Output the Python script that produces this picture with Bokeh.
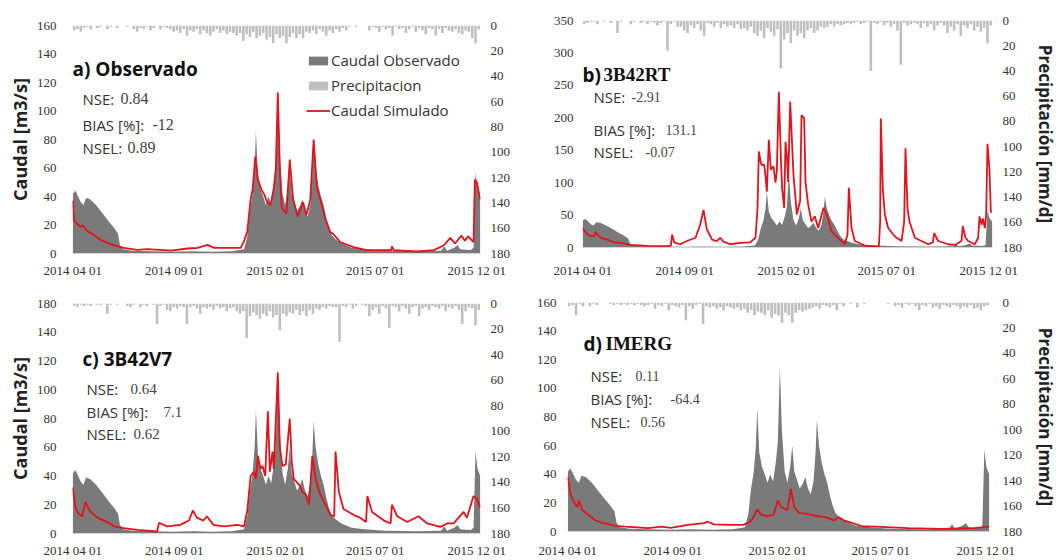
import datetime as dt
from bokeh.plotting import figure
from bokeh.models import (Range1d, LinearAxis, FixedTicker, DatetimeTickFormatter,
                          Label, Legend, LegendItem)
from bokeh.layouts import row, column
from bokeh.embed import file_html
from bokeh.resources import INLINE

START = dt.datetime(2014, 4, 1)
DAY_MS = 86400000.0

# ---------------- data ----------------
tick_dates = ["2014-04-01", "2014-09-01", "2015-02-01", "2015-07-01", "2015-12-01"]

# observed discharge (day offset from 2014-04-01, m3/s)
obs_day = [0, 4, 8, 12, 16, 20, 26, 35, 45, 55, 62, 68, 71, 76, 90, 120, 150, 180, 210, 240,
           258, 263, 267, 271, 274, 276, 279, 283, 287, 291, 295, 299, 303, 306, 309, 312, 316,
           320, 324, 327, 330, 334, 338, 342, 346, 350, 354, 358, 361, 363, 366, 370, 374, 378,
           382, 386, 390, 396, 405, 420, 440, 470, 520, 555, 560, 564, 575, 580, 584, 600, 604,
           607, 610, 614]
obs_q = [42, 44, 40, 36, 34, 39, 38, 34, 28, 22, 18, 14, 6, 3, 2, 1.5, 1.2, 1.5, 1.2, 1.5,
         3, 12, 30, 42, 60, 86, 55, 45, 40, 34, 40, 35, 48, 62, 115, 70, 42,
         34, 45, 60, 42, 36, 30, 33, 38, 30, 26, 35, 55, 78, 60, 48, 40, 34,
         25, 18, 13, 10, 7, 4, 3, 2, 1.5, 2, 5, 2, 4, 6, 3, 2.5, 4,
         57, 45, 40]

# simulated discharge, a) observed precipitation
sim_a_day = [0, 2, 7, 12, 14.5, 22, 32, 42, 52, 62, 77, 97, 112, 148, 173, 188, 203, 213, 238, 253,
             258, 263, 268, 271, 275, 279, 284, 288, 293, 298, 303, 306, 309, 312, 315, 322, 327,
             332, 339, 347, 352, 358, 363, 368, 373, 381, 388, 393, 403, 423, 443, 480, 481, 484,
             519, 544, 559, 569, 576, 586, 591, 596, 604, 606, 609, 614]
sim_a_q = [37, 23, 20.5, 18.6, 20, 15.5, 13, 9.5, 7.5, 5.7, 4, 2.5, 3, 2, 3.5, 4, 6, 4, 4, 4,
           8.5, 15.5, 38, 45, 68, 52, 45, 42, 36, 34, 46, 60, 113, 60, 32, 28, 66,
           38, 26, 36, 27, 38, 80, 46, 38, 24, 15, 13.5, 8, 4.5, 2.4, 2.4, 5, 2.4,
           1.4, 2.4, 5.6, 11, 7, 12.5, 9, 12, 8, 52, 50, 38]

# simulated discharge, b) 3B42RT
sim_b_day = [0, 4, 7, 12, 17, 19, 22, 27, 37, 47, 57, 72, 97, 127, 132, 134, 137, 146, 156, 169,
             176, 181, 186, 194, 201, 206, 211, 221, 236, 251, 259, 262, 264, 267, 269, 272, 274,
             276, 279, 282, 286, 289, 291, 294, 297, 299, 302, 304, 306, 308, 311, 316, 321, 326,
             328, 332, 334, 338, 343, 348, 353, 361, 366, 373, 383, 393, 397, 399, 403, 408, 423,
             444, 446, 447, 450, 453, 458, 468, 478, 482, 484, 487, 490, 498, 508, 518, 525, 527,
             533, 548, 558, 568, 570, 574, 578, 588, 593, 595, 598, 600, 603, 605, 607, 610, 612,
             614]
sim_b_q = [30, 24, 20, 18, 17, 24, 20, 15, 12, 8, 7, 4, 2.5, 2, 3, 20, 8, 5, 10, 15,
           35, 58, 28, 12, 10, 15, 9, 5, 7, 8, 15, 60, 148, 130, 127, 128, 110,
           86, 166, 120, 125, 100, 118, 240, 140, 90, 61, 163, 143, 101, 225, 112, 51, 72,
           204, 199, 101, 66, 40, 48, 30, 61, 51, 25, 15, 5, 20, 92, 30, 10, 3,
           1.5, 40, 199, 90, 51, 30, 17, 10, 40, 153, 60, 40, 15, 10, 5, 8, 22,
           10, 5, 4, 10, 33, 15, 10, 5, 15, 48, 35, 45, 30, 50, 160, 120, 55,
           55]

# simulated discharge, c) 3B42V7
sim_c_day = [0, 4, 9, 14, 19, 24, 27, 37, 47, 54, 62, 77, 97, 127, 130, 142, 162, 175, 181, 187,
             197, 202, 212, 228, 248, 258, 263, 268, 273, 276, 279, 283, 286, 290, 294, 297, 301,
             303, 309, 312, 316, 321, 327, 330, 333, 341, 346, 351, 356, 361, 366, 373, 381, 388,
             394, 396, 401, 408, 423, 433, 442, 444, 451, 469, 479, 481, 489, 504, 521, 534, 554,
             564, 574, 589, 594, 604, 609, 614]
sim_c_q = [32, 18, 13.5, 12, 22, 17, 15, 11, 9, 7.5, 5, 3.7, 2.5, 1.4, 7.5, 5, 6, 9, 16, 11,
           9, 12, 6, 5, 6, 5, 16, 40, 43, 38, 54, 45, 47, 40, 85, 43, 57,
           45, 112, 60, 47, 48, 80, 50, 38, 34, 29, 27, 20, 54, 38, 27, 20, 13,
           12, 57, 29, 17, 13, 11, 8, 26, 15, 9, 7, 20, 12, 8, 12, 7, 4.6,
           7, 7, 15, 11, 26, 24, 18]

# simulated discharge, d) IMERG
sim_d_day = [0, 4, 9, 14, 16, 21, 31, 40, 50, 60, 69, 84, 117, 136, 150, 175, 199, 203, 213, 237,
             256, 266, 270, 276, 281, 290, 300, 306, 311, 316, 320, 325, 330, 337, 347, 361, 375,
             388, 395, 402, 415, 430, 448, 496, 544, 592, 614]
sim_d_q = [38, 26, 20.5, 17, 21.7, 14.8, 11.3, 7.8, 6, 5, 4, 3.4, 2.3, 3.4, 2.5, 4.6, 5.8, 7, 5, 4.6,
           4.6, 7, 9.5, 15.5, 12, 10.5, 12, 21.7, 17, 15.9, 15, 29.8, 17, 13, 12.5, 11, 10,
           7.8, 10, 7.8, 5.8, 3.5, 3.4, 2.3, 1.8, 2.3, 3.4]

# precipitation, 5-day steps from 2014-04-01 (mm/d)
pr_a = [4, 3, 5, 2, 1, 3, 0, 2, 1,
        0, 3, 1, 0, 2, 0, 0, 1, 0, 3,
        5, 2, 3, 1, 4, 2, 0, 3, 1, 2,
        3, 5, 4, 6, 3, 8, 4, 5, 3, 7, 4, 6, 8, 5, 3, 6, 4, 7, 5, 6,
        8, 6, 12, 7, 9, 5, 10, 8, 6, 11, 9, 14, 7, 10, 8, 14, 9, 6, 10, 7,
        10, 5, 6, 4, 7, 3, 5, 8, 4, 6, 3, 5, 2, 4, 1,
        0, 1, 0, 0, 0,
        4, 1, 2, 5, 1, 3, 2, 8, 1, 3,
        2, 6, 3, 1, 5, 2, 4, 7, 2, 3,
        8, 3, 6, 2, 4, 5, 3, 6, 7, 4, 5, 10, 14, 3]
pr_b = [3, 2, 1, 1, 3, 0, 1, 0, 2, 0,
        10, 1, 0, 0, 3, 1, 0, 2, 1, 3,
        1, 2, 4, 2, 1, 24, 3, 1, 5, 5,
        8, 10, 4, 6, 3, 8, 12, 2, 3, 5,
        2, 6, 3, 5, 4, 6, 3, 7, 6, 8,
        5, 10, 12, 8, 14, 6, 9, 12, 7, 38,
        15, 10, 18, 8, 12, 10, 14, 8, 6, 10,
        8, 5, 6, 5, 3, 5, 3, 4, 3, 2,
        3, 2, 1, 3, 2, 1, 40, 2, 3, 1,
        4, 2, 5, 3, 8, 35, 2, 4, 3, 2,
        3, 6, 2, 5, 3, 8, 4, 2, 4, 10,
        5, 8, 3, 12, 4, 6, 3, 8, 5, 9,
        6, 18, 4]
pr_c = [2, 3, 1, 2, 1, 2, 0, 1, 1, 0,
        8, 1, 0, 1, 0, 0, 2, 3, 1, 0,
        3, 1, 2, 0, 1, 16, 2, 1, 5, 6,
        3, 4, 2, 3, 16, 3, 2, 4, 8, 3,
        4, 3, 5, 2, 4, 3, 6, 4, 3, 6,
        8, 6, 27, 10, 7, 9, 12, 8, 10, 6,
        11, 9, 21, 8, 10, 7, 8, 5, 9, 6,
        10, 5, 8, 4, 5, 3, 4, 2, 3, 3,
        30, 2, 3, 1, 4, 2, 0, 1, 2, 10,
        5, 3, 8, 2, 4, 19, 2, 3, 6, 2,
        4, 8, 3, 2, 10, 4, 3, 5, 2, 3,
        4, 2, 6, 3, 4, 2, 5, 16, 6, 3,
        4, 17, 5]
pr_d = [3, 2, 10, 1, 3, 0, 3, 1, 2, 0,
        0, 0, 1, 2, 1, 2, 1, 2, 1, 2,
        1, 2, 3, 2, 1, 5, 2, 3, 1, 6,
        2, 3, 4, 2, 14, 3, 5, 2, 1, 17,
        3, 4, 3, 5, 4, 6, 3, 4, 5, 4,
        6, 5, 8, 6, 10, 7, 8, 10, 6, 12,
        9, 10, 16, 8, 10, 16, 8, 6, 7, 6,
        5, 4, 3, 5, 2, 3, 4, 2, 6, 1,
        3, 0, 1, 0, 4, 0, 1, 0, 0, 0,
        0, 0, 0, 1, 0, 3, 2, 4, 1, 2,
        1, 3, 6, 2, 3, 1, 4, 3, 5, 2,
        3, 4, 2, 3, 5, 3, 4, 2, 5, 4,
        6, 3, 2]

# ---------------- styling ----------------
C_OBS = "#7a7a7a"
C_PR = "#bfbfbf"
C_SIM = "#e3121b"
SANS = "Open Sans"
SERIF = "Liberation Serif"
TXT = "#333333"


def to_dt(days):
    return [START + dt.timedelta(days=d) for d in days]


def ms(s):
    d = dt.datetime.strptime(s, "%Y-%m-%d")
    return (d - dt.datetime(1970, 1, 1)).total_seconds() * 1000.0


FMT = "%Y %m %d"


def style_axis(ax, standoff):
    ax.axis_line_color = None
    ax.major_tick_line_color = None
    ax.minor_tick_line_color = None
    ax.major_tick_out = 0
    ax.major_tick_in = 0
    ax.minor_tick_out = 0
    ax.minor_tick_in = 0
    ax.major_label_standoff = standoff
    ax.major_label_text_font = SERIF
    ax.major_label_text_font_size = "13px"
    ax.major_label_text_color = TXT


def panel(cfg):
    p = figure(width=530, height=280, x_axis_type="datetime",
               x_range=Range1d(START - dt.timedelta(hours=12), START + dt.timedelta(days=614.5)),
               y_range=Range1d(0, cfg["ymax"]),
               output_backend="svg", toolbar_location=None,
               min_border_left=cfg["bl"], min_border_right=cfg["br"],
               min_border_top=cfg["bt"], min_border_bottom=cfg["bb"])
    p.extra_y_ranges = {"pr": Range1d(180, 0)}
    p.grid.visible = False
    p.outline_line_color = None
    p.background_fill_color = "white"
    p.border_fill_color = "white"

    obs_r = p.varea(x=to_dt(obs_day), y1=0, y2=obs_q, fill_color=C_OBS)
    pr_x = [START + dt.timedelta(days=5 * i + 2) for i in range(len(cfg["pr"]))]
    pr_r = p.vbar(x=pr_x, width=3.8 * DAY_MS, top=0, bottom=cfg["pr"], y_range_name="pr",
                  fill_color=C_PR, line_color=None)
    sim_r = p.line(x=to_dt(cfg["sd"]), y=cfg["sq"], line_color=C_SIM, line_width=1.8)

    # bottom (date) axis
    xa = p.xaxis[0]
    xa.ticker = FixedTicker(ticks=[ms(s) for s in tick_dates])
    xa.formatter = DatetimeTickFormatter(microseconds=FMT, milliseconds=FMT, seconds=FMT,
                                         minsec=FMT, minutes=FMT, hourmin=FMT, hours=FMT,
                                         days=FMT, months=FMT, years=FMT)
    style_axis(xa, cfg["xstand"])
    xa.axis_line_color = "#d4d4d4"

    # left axis
    ya = p.yaxis[0]
    ya.ticker = FixedTicker(ticks=list(range(0, cfg["ymax"] + 1, cfg["ystep"])))
    if cfg.get("ovr"):
        ya.major_label_overrides = cfg["ovr"]
    style_axis(ya, cfg["lstand"])
    if cfg.get("ylabel"):
        ya.axis_label = "Caudal [m3/s]"
        ya.axis_label_text_font = SANS
        ya.axis_label_text_font_style = "bold"
        ya.axis_label_text_font_size = "18px"
        ya.axis_label_text_color = "#222222"
        ya.axis_label_standoff = 2

    # right axis (precipitation, inverted)
    ra = LinearAxis(y_range_name="pr", ticker=FixedTicker(ticks=list(range(0, 181, 20))))
    style_axis(ra, cfg["rstand"])
    if cfg.get("rlabel"):
        ra.axis_label = "Precipitación [mm/d]"
        ra.axis_label_text_font = SANS
        ra.axis_label_text_font_style = "bold"
        ra.axis_label_text_font_size = "17px"
        ra.axis_label_text_color = "#222222"
        ra.axis_label_standoff = 9
    p.add_layout(ra, "right")

    # titles
    for (tx, ty, text, font) in cfg["title"]:
        p.add_layout(Label(x=tx, y=ty, x_units="screen", y_units="screen", text=text,
                           text_font=font, text_font_style="bold", text_font_size="19px",
                           text_baseline="middle", text_color="#111111"))
    # statistics
    sx, vys, vxs, vals, vsize = cfg["stats"]
    names = ["NSE:", "BIAS [%]:", "NSEL:"]
    for name, yy, vx, v in zip(names, vys, vxs, vals):
        p.add_layout(Label(x=sx, y=yy, x_units="screen", y_units="screen", text=name,
                           text_font=SANS, text_font_size="15px", text_baseline="middle",
                           text_color=TXT))
        p.add_layout(Label(x=vx, y=yy, x_units="screen", y_units="screen", text=v,
                           text_font=SERIF, text_font_size=vsize, text_baseline="middle",
                           text_color="#444444"))

    if cfg.get("legend"):
        leg = Legend(items=[LegendItem(label="Caudal Observado", renderers=[obs_r]),
                            LegendItem(label="Precipitacion", renderers=[pr_r]),
                            LegendItem(label="Caudal Simulado", renderers=[sim_r])],
                     location=(234, 133), orientation="vertical",
                     glyph_width=24, glyph_height=11, label_height=20, label_standoff=1,
                     spacing=5, padding=0, margin=0, border_line_color=None,
                     background_fill_alpha=0.0,
                     label_text_font=SANS, label_text_font_size="15px", label_text_color=TXT)
        p.add_layout(leg)
    return p


pa = panel(dict(ymax=160, ystep=20, bl=72, br=50, bt=25, bb=25, pr=pr_a,
                sd=sim_a_day, sq=sim_a_q, lstand=16, rstand=10, xstand=9, ylabel=True, legend=True,
                title=[(0, 185, "a) Observado", SANS)],
                stats=(10, [155, 129, 106], [48, 80, 55], ["0.84", "-12", "0.89"], "16px")))
pb = panel(dict(ymax=350, ystep=50, bl=52, br=67, bt=20, bb=32, pr=pr_b,
                sd=sim_b_day, sq=sim_b_q, lstand=9, rstand=10, xstand=15, rlabel=True,
                title=[(0, 173, "b)", SANS), (21, 173, "3B42RT", SERIF)],
                stats=(11, [151, 118, 96], [49, 83, 63], ["-2.91", "131.1", "-0.07"], "14px")))
pc = panel(dict(ymax=160, ystep=20, bl=72, br=50, bt=23, bb=25, pr=pr_c,
                sd=sim_c_day, sq=sim_c_q, lstand=16, rstand=10, xstand=9, ylabel=True,
                ovr={160: "180"},
                title=[(10, 175, "c) 3B42V7", SANS)],
                stats=(14, [145, 122, 100], [58, 91, 61], ["0.64", "7.1", "0.62"], "15px")))
pd_ = panel(dict(ymax=160, ystep=20, bl=37, br=67, bt=22, bb=27, pr=pr_d,
                 sd=sim_d_day, sq=sim_d_q, lstand=11, rstand=13, xstand=11, rlabel=True,
                 title=[(16, 188, "d)", SANS), (38, 188, "IMERG", SERIF)],
                 stats=(23, [156, 133, 110], [68, 103, 73], ["0.11", "-64.4", "0.56"], "14px")))

top = row(column(pa), column(pb), spacing=0)
bottom = row(column(pc), column(pd_), spacing=0)
layout = column(top, bottom, spacing=0)
open("out.html", "w").write(file_html(layout, INLINE))
